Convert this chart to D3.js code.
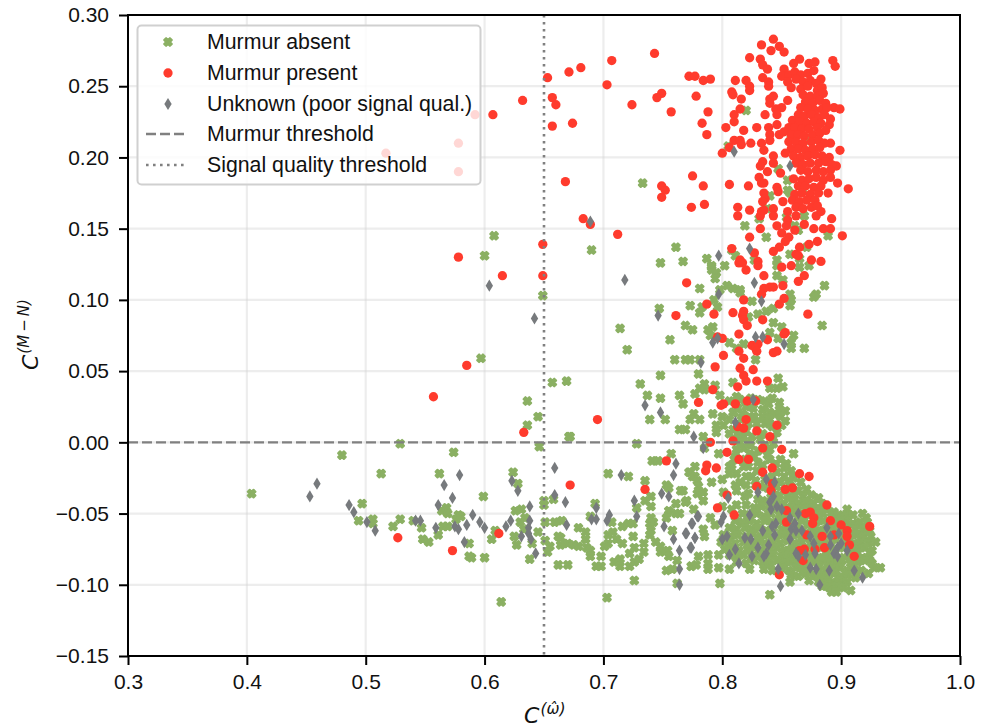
<!DOCTYPE html>
<html><head><meta charset="utf-8"><script src="https://cdn.jsdelivr.net/npm/d3@7"></script>
<style>html,body{margin:0;background:#fff}svg{display:block}text{font-family:"Liberation Sans",Arial,sans-serif;fill:#111}</style></head>
<body><svg id="c" width="989" height="727"></svg>
<script>
const xTicks=[0.3,0.4,0.5,0.6,0.7,0.8,0.9,1.0];
const yTicks=[-0.15,-0.10,-0.05,0,0.05,0.10,0.15,0.20,0.25,0.30];
const legendLabels=["Murmur absent","Murmur present","Unknown (poor signal qual.)","Murmur threshold","Signal quality threshold"];
const murmurThreshold=0, qualityThreshold=0.65;

const absentSparse=[[.404,-.036],[.48,-.009],[.529,-.001],[.513,-.022],[.574,-.007],[.562,-.022],[.497,-.043],[.494,-.055],[.506,-.054],[.506,-.057],[.523,-.059],[.529,-.054],[.54,-.055],[.547,-.06],[.548,-.068],[.553,-.07],[.561,-.065],[.565,-.059],[.569,-.059],[.564,-.048],[.568,-.046],[.569,-.05],[.576,-.054],[.578,-.051],[.587,-.071],[.587,-.08],
[.624,-.021],[.628,-.029],[.599,-.038],[.58,-.052],[.589,-.081],[.60,-.081],[.614,-.112],[.606,-.068],[.609,-.062],[.625,-.066],[.627,-.072],[.626,-.048],[.631,-.047],[.63,-.056],[.634,-.053],[.633,-.061],[.645,-.063],[.64,-.071],[.638,-.082],[.646,-.003],[.671,.004],[.728,-.001],[.65,-.041],[.65,-.044],[.658,-.04],[.651,-.056],[.659,-.056],[.665,-.055],[.651,-.069],[.655,-.073],[.653,-.077],[.662,-.066],[.664,-.067],[.664,-.072],[.679,-.06],[.685,-.063],[.685,-.068],[.67,-.071],[.675,-.072],[.679,-.073],[.686,-.074],[.689,-.076],[.689,-.08],[.662,-.086],[.67,-.086],[.693,-.043],[.689,-.052],[.704,-.022],[.721,-.024],[.741,-.013],[.746,-.013],[.757,-.008],[.735,-.027],[.735,-.041],[.74,-.038],[.74,-.045],[.728,-.046],[.753,-.03],[.755,-.032],[.765,-.034],[.769,-.042],[.761,-.043],[.761,-.05],[.764,-.05],[.755,-.048],[.753,-.053],[.776,-.047],[.74,-.053],[.742,-.056],[.739,-.057],[.74,-.062],[.707,-.056],[.716,-.059],[.721,-.057],[.725,-.057],[.704,-.065],[.708,-.063],[.711,-.068],[.716,-.071],[.701,-.073],[.704,-.071],[.725,-.066],[.739,-.065],[.698,-.08],[.694,-.087],[.698,-.087],[.709,-.084],[.714,-.082],[.714,-.087],[.722,-.078],[.726,-.074],[.734,-.071],[.722,-.087],[.726,-.084],[.73,-.082],[.734,-.077],[.744,-.07],[.748,-.073],[.748,-.077],[.755,-.08],[.754,-.076],[.753,-.09],[.758,-.089],[.726,-.097],[.703,-.109],[.762,-.099],[.774,-.087],[.778,-.086],[.762,-.083],[.758,-.062],[.772,-.021],[.775,-.024],[.779,-.027],[.779,-.036],
[.608,.145],[.6,.131],[.649,.103],[.69,.135],[.761,.137],[.767,.127],[.714,.08],[.72,.065],[.747,.094],[.733,.182],[.748,.126],[.597,.059],[.657,.042],[.669,.043],[.636,.029],[.645,.018],[.672,.004],[.636,.012],[.748,.047],[.731,.041],[.737,.033],[.773,.058],[.76,.058],[.748,.031],[.775,.079],[.781,.091],[.793,.1],[.798,.107],[.79,.075],[.791,.121],[.781,.108],[.773,.096],[.802,.124],[.815,.107],[.811,.131],[.827,.128],[.781,.058],[.785,.037],[.794,.04],[.756,.072],[.739,.016],[.752,.016],[.764,.009],[.773,.016]];
const absentColumn=[[.82,.233],[.805,.208],[.819,.152],[.837,.144],[.787,.129],[.791,.124],[.808,.135],[.846,.128],[.846,.124],[.857,.132],[.865,.129],[.889,.145],[.871,.137],[.873,.124],[.855,.184],[.855,.177],[.857,.175],[.847,.192],[.868,.177],[.84,.173],[.838,.164],[.831,.157],[.854,.158],[.861,.152],[.864,.149],[.869,.159],[.865,.123],[.858,.213],[.871,.212],
[.791,.123],[.795,.119],[.794,.115],[.804,.11],[.809,.108],[.815,.105],[.825,.099],[.783,.095],[.796,.095],[.769,.082],[.788,.079],[.792,.081],[.806,.07],[.812,.066],[.818,.069],[.837,.092],[.843,.094],[.857,.096],[.858,.1],[.879,.104],[.877,.102],[.886,.11],[.846,.117],[.851,.114],[.857,.104],[.884,.082],[.869,.066],[.858,.07],[.858,.066],[.84,.077],[.847,.073],[.769,.058],[.828,.058],[.78,.048],[.809,.042],[.847,.045],[.846,.038],[.851,.039],[.84,.038],[.785,.041],[.781,.038],[.777,.034],[.798,.033],[.764,.033],[.767,.027],[.812,.032],[.82,.025],[.813,.024],[.839,.027],[.834,.023],[.776,.02],[.781,.016],[.792,.02],[.8,.018],[.795,.012],[.801,.012],[.769,.009],[.784,.004],[.795,.007],[.809,.021],[.809,.009],[.818,.004],[.815,0],[.812,-.005],[.811,-.01],[.827,.018],[.834,.018],[.829,.013],[.836,.013],[.844,.02],[.849,.018],[.846,.007],[.834,.006],[.825,.004],[.832,.002],[.822,.013],[.816,.016],[.842,.011],[.824,-.002],[.818,-.004],[.83,-.006],[.836,-.002],[.843,-.001],
[.797,-.008],[.785,-.004],[.86,-.008],[.84,-.005],[.827,-.01],[.84,-.012],[.849,-.012],[.854,-.015],[.773,-.021],[.777,-.017],[.777,-.024],[.791,-.028],[.8,-.026],[.806,-.017],[.812,-.022],[.818,-.017],[.815,-.028],[.825,-.024],[.832,-.031],[.78,-.031],[.784,-.035],[.767,-.034],[.77,-.041],[.784,-.041],[.801,-.035],[.812,-.044],[.819,-.038],[.79,-.053],[.794,-.058],[.784,-.061],[.785,-.066],[.78,-.08],[.774,-.087],[.788,-.079],[.788,-.085],[.788,-.089],[.797,-.079],[.797,-.088],[.806,-.089],[.798,-.099],[.84,-.107],[.857,-.098],[.834,-.016],[.846,-.021],[.858,-.02],[.81,-.012],[.822,-.017],[.829,-.02],[.836,-.026],[.849,-.028],[.82,-.03],[.811,-.03],[.856,-.027]];
const absentNeck=[[.806,.029],[.815,.03],[.824,.031],[.83,.03],[.836,.029],[.842,.031],[.848,.028],[.81,.021],[.817,.02],[.826,.024],[.84,.021],[.848,.023],[.853,.022],[.806,.016],[.823,.018],[.84,.016],[.853,.015],[.806,.006],[.813,.006],[.82,.008],[.843,.003],[.85,.012],[.812,.002],[.822,-.001],[.808,-.016],[.816,-.012],[.823,-.008],[.83,-.014],[.838,-.009],[.845,-.015],[.852,-.018],[.806,-.022],[.82,-.024],[.828,-.027],[.842,-.024],[.852,-.024],[.86,-.025],[.866,-.028],[.812,-.034],[.822,-.036],[.83,-.04],[.82,-.044],[.828,-.03],[.838,-.032],[.8,-.045],[.808,-.047],[.822,.088],[.83,.09],[.843,.084],[.85,.081],[.86,.075]];
const absentCluster=[
[.846,-.031],[.852,-.034],[.858,-.031],[.864,-.034],[.871,-.033],[.841,-.036],[.848,-.037],[.855,-.038],[.861,-.037],[.868,-.038],[.875,-.037],[.881,-.039],
[.834,-.041],[.84,-.042],[.846,-.041],[.852,-.043],[.859,-.042],[.865,-.043],[.871,-.042],[.877,-.043],[.884,-.043],[.827,-.046],[.833,-.045],[.839,-.047],[.845,-.046],[.851,-.048],[.858,-.046],[.864,-.047],[.87,-.047],[.876,-.046],[.882,-.048],[.888,-.047],[.894,-.049],[.905,-.047],
[.817,-.05],[.823,-.051],[.829,-.05],[.835,-.052],[.841,-.05],[.848,-.051],[.854,-.052],[.86,-.05],[.866,-.052],[.873,-.051],[.879,-.052],[.885,-.05],[.892,-.052],[.898,-.051],[.904,-.052],[.91,-.051],[.918,-.05],[.921,-.053],
[.811,-.055],[.817,-.056],[.823,-.055],[.829,-.057],[.836,-.055],[.842,-.056],[.848,-.055],[.854,-.057],[.86,-.056],[.867,-.055],[.873,-.057],[.879,-.056],[.885,-.055],[.891,-.057],[.897,-.056],[.904,-.055],[.91,-.057],[.916,-.056],[.922,-.056],
[.806,-.06],[.812,-.061],[.819,-.06],[.825,-.061],[.831,-.06],[.837,-.062],[.843,-.06],[.85,-.061],[.856,-.062],[.862,-.06],[.868,-.061],[.875,-.06],[.881,-.062],[.887,-.061],[.893,-.06],[.899,-.062],[.905,-.06],[.912,-.061],[.918,-.061],[.924,-.062],
[.801,-.065],[.807,-.066],[.813,-.065],[.82,-.066],[.826,-.064],[.832,-.066],[.838,-.065],[.845,-.066],[.851,-.065],[.857,-.066],[.863,-.065],[.87,-.066],[.876,-.065],[.882,-.066],[.888,-.065],[.894,-.067],[.9,-.065],[.907,-.066],[.913,-.065],[.919,-.066],[.925,-.066],
[.799,-.07],[.805,-.07],[.811,-.071],[.818,-.07],[.824,-.071],[.83,-.069],[.836,-.071],[.843,-.07],[.849,-.071],[.855,-.069],[.861,-.071],[.867,-.07],[.874,-.071],[.88,-.07],[.886,-.071],[.892,-.069],[.899,-.071],[.905,-.07],[.911,-.071],[.917,-.07],[.923,-.071],[.929,-.07],
[.802,-.075],[.808,-.074],[.814,-.076],[.821,-.075],[.827,-.074],[.833,-.076],[.84,-.075],[.846,-.074],[.852,-.076],[.858,-.075],[.864,-.074],[.87,-.076],[.877,-.075],[.883,-.074],[.889,-.076],[.895,-.075],[.902,-.074],[.908,-.076],[.914,-.075],[.92,-.074],[.926,-.076],
[.806,-.079],[.812,-.08],[.818,-.079],[.825,-.08],[.831,-.079],[.837,-.081],[.843,-.079],[.85,-.08],[.856,-.079],[.862,-.081],[.868,-.08],[.875,-.079],[.881,-.081],[.887,-.08],[.893,-.079],[.899,-.081],[.906,-.08],[.912,-.079],[.918,-.081],[.924,-.08],
[.812,-.084],[.82,-.085],[.827,-.083],[.834,-.084],[.84,-.085],[.846,-.083],[.852,-.085],[.858,-.084],[.864,-.083],[.871,-.085],[.877,-.084],[.883,-.083],[.889,-.085],[.895,-.084],[.901,-.083],[.908,-.085],[.914,-.084],[.92,-.083],[.926,-.085],[.933,-.088],[.928,-.088],
[.823,-.089],[.835,-.089],[.842,-.09],[.85,-.088],[.856,-.09],[.862,-.088],[.868,-.089],[.874,-.09],[.881,-.088],[.887,-.09],[.893,-.089],[.899,-.088],[.905,-.09],[.911,-.089],[.917,-.09],[.923,-.092],
[.858,-.093],[.864,-.094],[.87,-.092],[.876,-.094],[.882,-.093],[.888,-.094],[.894,-.092],[.9,-.094],[.906,-.093],[.912,-.095],
[.873,-.097],[.881,-.098],[.887,-.097],[.893,-.098],[.899,-.097],[.905,-.098],[.884,-.101],[.89,-.102],[.896,-.101],[.902,-.102],[.908,-.104],[.892,-.105],[.896,-.105]];

const murmurPresent=[[.517,.203],[.578,.21],[.578,.19],[.592,.23],[.607,.23],[.653,.256],[.632,.24],[.657,.242],[.66,.237],[.657,.222],[.674,.224],[.671,.26],[.681,.263],[.703,.251],[.707,.268],[.724,.237],[.743,.273],[.749,.245],[.745,.242],[.757,.232],[.772,.257],[.777,.257],[.784,.254],[.79,.255],[.778,.243],[.788,.232],[.783,.224],[.787,.216],[.668,.183],[.683,.157],[.689,.153],[.712,.146],[.749,.18],[.752,.177],[.749,.172],[.775,.187],[.784,.18],[.774,.165],[.785,.167],[.649,.139],[.649,.117],[.578,.13],[.615,.117],[.585,.054],[.557,.032],[.633,.007],[.695,.016],[.672,-.03],[.527,-.067],[.573,-.076],[.612,-.064],[.753,-.013],[.735,-.033],[.761,.089],
[.80,.203],[.806,.181],[.822,.18],[.813,.165],[.813,.159],[.823,.163],[.832,.15],[.823,.144],[.808,.136],[.827,.133],[.815,.128],[.814,.126],[.83,.127],[.83,.124],[.811,.254],[.82,.254],[.823,.25],[.823,.247],[.808,.246],[.809,.244],[.816,.241],[.815,.234],[.81,.23],[.81,.225],[.803,.221],[.818,.219],[.829,.221],[.836,.23],[.81,.212],[.815,.212],[.816,.209],[.806,.207],[.824,.21],[.833,.21],[.835,.205],[.843,.283],[.833,.279],[.848,.278],[.841,.275],[.852,.274],[.823,.27],[.832,.269],[.865,.269],[.86,.266],[.873,.266],[.878,.267],[.893,.268],[.895,.264],[.834,.265],[.838,.262],[.852,.262],[.85,.257],[.834,.256],[.839,.253],[.839,.25],[.84,.241],[.843,.243],[.84,.238],[.845,.234],[.85,.235],[.846,.23],[.855,.24],[.839,.221],[.84,.216],[.84,.212],[.848,.216],[.846,.223],[.843,.201],[.834,.197],[.832,.194],[.838,.19],[.843,.196],[.831,.186],[.833,.182],[.835,.182],[.835,.175],[.836,.171],[.834,.169],[.846,.179],[.847,.176],[.849,.189],[.851,.169],[.833,.162],[.835,.163],[.832,.159],[.843,.164],[.843,.159],[.846,.152],[.855,.162],[.855,.156],[.854,.152],[.85,.147],[.856,.144],[.853,.141],[.848,.137],[.843,.134],[.865,.137],[.862,.132],[.864,.131],[.873,.139],[.88,.141],[.875,.128],[.883,.127],[.85,.123],[.858,.124],[.861,.149],[.862,.159],[.869,.153],[.877,.15],[.885,.15],[.891,.15],[.892,.157],[.901,.145],[.879,.159],[.883,.162],[.889,.175],[.897,.182],[.906,.178],[.896,.194],[.899,.205],[.891,.21],[.894,.235],[.899,.234],[.891,.227],[.89,.223],[.883,.255],
[.856,.258],[.861,.26],[.866,.258],[.872,.259],[.877,.261],[.855,.253],[.862,.255],[.868,.253],[.874,.254],[.879,.252],[.858,.249],[.866,.248],[.872,.25],[.88,.247],[.884,.249],[.868,.244],[.874,.243],[.88,.243],[.885,.245],[.87,.239],[.876,.238],[.882,.24],[.887,.238],[.866,.235],[.872,.234],[.878,.233],[.884,.234],[.888,.235],[.864,.23],[.869,.229],[.875,.23],[.881,.228],[.886,.23],[.859,.226],[.865,.225],[.871,.224],[.877,.225],[.883,.224],[.856,.221],[.861,.221],[.867,.22],[.873,.22],[.88,.221],[.852,.218],[.858,.216],[.864,.216],[.869,.215],[.876,.216],[.882,.217],[.887,.219],[.856,.211],[.862,.211],[.868,.21],[.875,.211],[.881,.212],[.886,.21],[.858,.206],[.864,.206],[.87,.205],[.876,.206],[.882,.207],[.853,.203],[.86,.201],[.866,.2],[.872,.201],[.878,.202],[.884,.201],[.89,.2],[.862,.196],[.868,.195],[.874,.196],[.881,.196],[.887,.197],[.892,.195],[.866,.191],[.872,.19],[.879,.191],[.885,.19],[.891,.191],[.86,.185],[.867,.184],[.873,.185],[.879,.186],[.885,.184],[.891,.186],[.864,.18],[.87,.18],[.877,.179],[.883,.18],[.861,.174],[.867,.175],[.874,.174],[.881,.175],[.859,.17],[.865,.169],[.871,.17],[.878,.17],[.862,.165],[.868,.164],[.875,.165],[.88,.166],
[.77,.112],[.82,.121],[.817,.126],[.835,.117],[.869,.117],[.864,.113],[.851,.11],[.835,.108],[.84,.109],[.843,.109],[.833,.104],[.852,.101],[.848,.097],[.818,.10],[.787,.097],[.793,.09],[.809,.091],[.818,.092],[.817,.089],[.818,.086],[.821,.082],[.834,.086],[.872,.09],[.814,.076],[.853,.077],[.852,.076],[.838,.072],[.796,.074],[.80,.073],[.825,.068],[.83,.069],[.828,.066],[.829,.064],[.814,.064],[.818,.059],[.843,.063],[.846,.064],[.801,.061],[.794,.053],[.815,.052],[.826,.051],[.818,.047],[.82,.043],[.829,.043],[.838,.043],[.813,.039],[.792,.037],[.78,.028],[.801,.027],[.799,.026],[.811,.027],[.821,.029],[.828,.029],[.82,.016],[.813,.011],[.818,.01],[.829,.008],[.846,.012],[.84,.004],[.79,0],[.809,.001],[.834,-.004],[.85,-.005],[.804,-.007],[.814,-.012],[.822,-.012],[.787,-.016],[.786,-.02],[.795,-.018],[.842,-.018],[.834,-.021],[.865,-.022],[.873,-.024],[.829,-.031],[.841,-.034],[.842,-.029],[.853,-.033],[.859,-.032],[.804,-.037],[.796,-.046],[.81,-.051],[.854,-.048],[.854,-.056],[.87,-.05],[.874,-.049],[.888,-.044],[.877,-.053],[.876,-.057],[.891,-.055],[.90,-.058],[.924,-.059],[.871,-.065],[.884,-.066],[.894,-.065],[.905,-.062],[.905,-.066],[.907,-.072],[.886,-.074],[.869,-.075],[.865,-.076],[.868,-.083],[.878,-.075],[.911,-.08],[.848,-.093]];

const unknownQuality=[[.453,-.038],[.459,-.029],[.486,-.044],[.49,-.049],[.501,-.056],[.508,-.062],[.542,-.055],[.546,-.055],[.559,-.06],[.561,-.044],[.566,-.03],[.579,-.023],[.573,-.039],[.575,-.059],[.578,-.061],[.585,-.058],[.583,-.07],[.659,-.018],[.623,-.027],[.628,-.034],[.659,-.037],[.668,-.042],[.638,-.045],[.715,-.023],[.761,-.015],[.759,-.023],[.749,-.036],[.755,-.038],[.726,-.041],[.728,-.052],[.694,-.046],[.69,-.054],[.694,-.054],[.703,-.055],[.705,-.051],[.59,-.051],[.596,-.056],[.6,-.06],[.622,-.055],[.618,-.059],[.638,-.055],[.637,-.06],[.637,-.064],[.639,-.068],[.631,-.066],[.669,-.058],[.643,-.078],[.751,-.059],[.759,-.068],[.764,-.076],[.764,-.089],[.764,-.1],[.769,-.064],[.773,-.074],[.774,-.057],[.777,-.067],[.779,-.052],
[.604,.11],[.642,.087],[.689,.155],[.718,.114],[.746,.089],[.735,.026],[.748,.021],[.81,.204],[.857,.194],[.797,.131],[.823,.136],[.797,.104],[.827,.112],[.833,.099],[.792,.07],[.796,.073],[.828,.074],[.834,.074],[.852,.069],[.782,.056],[.826,.03],[.811,.014],[.776,.004],[.784,-.004],[.837,-.026],[.844,-.028],[.83,-.035],[.805,-.039],[.843,-.038],[.84,-.042],[.841,-.047],[.846,-.045],[.85,-.047],[.801,-.052],[.799,-.056],[.823,-.051],[.78,-.052],[.775,-.057],[.77,-.064],[.777,-.067],[.774,-.074],[.857,-.053],[.864,-.05],[.861,-.057],[.858,-.061],[.862,-.062],[.867,-.062],[.845,-.057],[.842,-.059],[.834,-.062],[.844,-.065],[.8,-.068],[.804,-.066],[.819,-.067],[.824,-.068],[.857,-.068],[.874,-.066],[.888,-.06],[.898,-.064],[.891,-.066],[.891,-.072],[.897,-.074],[.9,-.071],[.894,-.078],[.897,-.08],[.905,-.076],[.877,-.071],[.878,-.078],[.87,-.079],[.862,-.078],[.864,-.08],[.83,-.074],[.839,-.072],[.837,-.078],[.835,-.08],[.811,-.075],[.806,-.079],[.814,-.085],[.825,-.08],[.847,-.089],[.849,-.101],[.874,-.088],[.879,-.089],[.89,-.09],[.911,-.09],[.918,-.095],[.882,-.1]];

const svg=d3.select("#c");
const x=d3.scaleLinear().domain([0.3,1.0]).range([128,960]);
const y=d3.scaleLinear().domain([-0.15,0.30]).range([656,15]);
const green="#8bb063",red="#ff3b2d",gray="#777a7d";

const xMarker={draw(ctx,size){const r=Math.sqrt(size)/4;
  const p=[[-1,-2],[0,-1],[1,-2],[2,-1],[1,0],[2,1],[1,2],[0,1],[-1,2],[-2,1],[-1,0],[-2,-1]];
  p.forEach((q,i)=>i?ctx.lineTo(q[0]*r,q[1]*r):ctx.moveTo(q[0]*r,q[1]*r));ctx.closePath();}};
const thinDiamond={draw(ctx,size){const h=Math.sqrt(size)/2,w=h*0.6;
  ctx.moveTo(0,-h);ctx.lineTo(w,0);ctx.lineTo(0,h);ctx.lineTo(-w,0);ctx.closePath();}};
const xPath=d3.symbol().type(xMarker).size(58)(), dPath=d3.symbol().type(thinDiamond).size(150)(), cPath=d3.symbol().type(d3.symbolCircle).size(68)();
const xStroke=2.1;

const grid=svg.append("g").attr("stroke","#d4d4d4").attr("stroke-opacity",.42).attr("stroke-width",2.2);
xTicks.slice(1,-1).forEach(t=>grid.append("line").attr("x1",x(t)).attr("x2",x(t)).attr("y1",y(.3)).attr("y2",y(-.15)));
yTicks.slice(1,-1).forEach(t=>grid.append("line").attr("y1",y(t)).attr("y2",y(t)).attr("x1",x(.3)).attr("x2",x(1)));

function marks(data,path,color,stroke){svg.append("g").selectAll("path").data(data).join("path")
  .attr("d",path).attr("fill",color).attr("stroke",stroke||"none").attr("stroke-width",stroke?xStroke:0).attr("stroke-linejoin","round")
  .attr("transform",d=>`translate(${x(d[0])},${y(d[1])})`);}
marks([...absentSparse,...absentColumn,...absentNeck,...absentCluster],xPath,green,green);
marks(murmurPresent,cPath,red);
marks(unknownQuality,dPath,gray);

svg.append("line").attr("x1",x(.3)).attr("x2",x(1)).attr("y1",y(murmurThreshold)).attr("y2",y(murmurThreshold))
 .attr("stroke","#808080").attr("stroke-width",2.4).attr("stroke-dasharray","10 4");
svg.append("line").attr("x1",x(qualityThreshold)).attr("x2",x(qualityThreshold)).attr("y1",y(.3)).attr("y2",y(-.15))
 .attr("stroke","#808080").attr("stroke-width",2.6).attr("stroke-dasharray","2.6 4.4");

const ax=svg.append("g");
const xa=ax.append("g").attr("transform","translate(0,656)").call(d3.axisBottom(x).tickValues(xTicks).tickFormat(d3.format(".1f")).tickSize(9).tickPadding(9));
const ya=ax.append("g").attr("transform","translate(128,0)").call(d3.axisLeft(y).tickValues(yTicks).tickFormat(v=>(v<0?"\u2212":"")+d3.format(".2f")(Math.abs(v))).tickSize(9).tickPadding(10));
[xa,ya].forEach(g=>{g.select(".domain").remove();g.selectAll("line").attr("stroke","#000").attr("stroke-width",2);
  g.selectAll("text").attr("font-size",21).attr("font-family","Liberation Sans").attr("fill","#111");});
svg.append("rect").attr("x",128).attr("y",15).attr("width",832).attr("height",641).attr("fill","none").attr("stroke","#000").attr("stroke-width",2);

const lg=svg.append("g");
lg.append("rect").attr("x",137.5).attr("y",25.5).attr("width",343).attr("height",159).attr("rx",4)
 .attr("fill","#fff").attr("fill-opacity",.8).attr("stroke","#d0d0d0").attr("stroke-width",2);
const rows=[42,73,104,134,165];
legendLabels.forEach((t,i)=>lg.append("text").attr("x",207).attr("y",rows[i]+7).attr("font-size",21.3).text(t));
lg.append("path").attr("d",xPath).attr("fill",green).attr("stroke",green).attr("stroke-width",xStroke).attr("stroke-linejoin","round").attr("transform",`translate(168,${rows[0]})`);
lg.append("path").attr("d",cPath).attr("fill",red).attr("transform",`translate(168,${rows[1]})`);
lg.append("path").attr("d",dPath).attr("fill",gray).attr("transform",`translate(168,${rows[2]})`);
lg.append("line").attr("x1",146).attr("x2",186).attr("y1",rows[3]).attr("y2",rows[3]).attr("stroke","#808080").attr("stroke-width",2.4).attr("stroke-dasharray","10 4");
lg.append("line").attr("x1",146).attr("x2",186).attr("y1",rows[4]).attr("y2",rows[4]).attr("stroke","#808080").attr("stroke-width",2.6).attr("stroke-dasharray","2.6 4.4");

const xl=svg.append("text").attr("x",524).attr("y",723).attr("font-size",22).attr("font-style","italic").style("font-family","DejaVu Sans");
xl.append("tspan").text("C");
xl.append("tspan").attr("font-size",15.5).attr("dy",-9).attr("dx",1).text("(\u03C9\u0302)");
const yl=svg.append("text").attr("transform","translate(38,370) rotate(-90)").attr("font-size",22).attr("font-style","italic").style("font-family","DejaVu Sans");
yl.append("tspan").text("C");
yl.append("tspan").attr("font-size",15).attr("dy",-9).attr("dx",1).text("(M\u2009\u2212\u2009N)");
</script></body></html>
